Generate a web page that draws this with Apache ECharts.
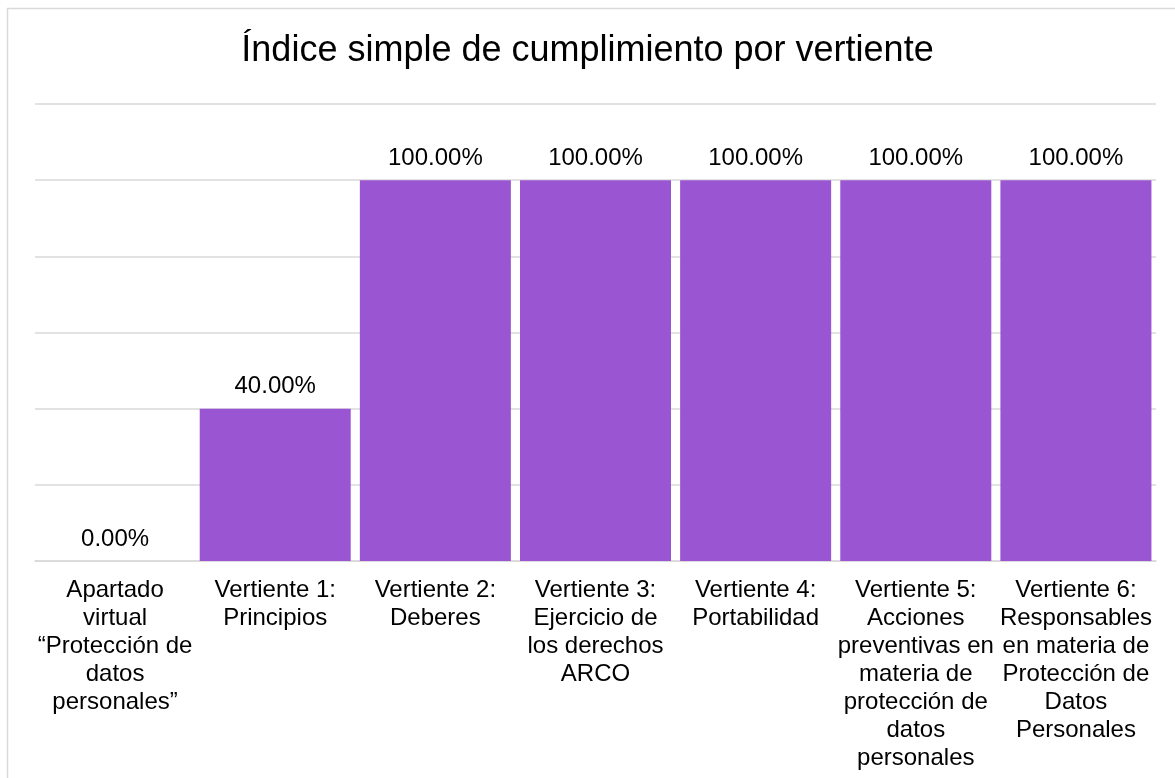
<!DOCTYPE html>
<html>
<head>
<meta charset="utf-8">
<script src="https://cdn.jsdelivr.net/npm/echarts@6/dist/echarts.min.js"></script>
<style>
  html, body { margin: 0; padding: 0; background: #fff; }
  #chart { width: 1175px; height: 778px; }
</style>
</head>
<body>
<div id="chart"></div>
<script>
// categorías (ejes) y valores en %
const categories = [
  "Apartado\nvirtual\n“Protección de\ndatos\npersonales”",
  "Vertiente 1:\nPrincipios",
  "Vertiente 2:\nDeberes",
  "Vertiente 3:\nEjercicio de\nlos derechos\nARCO",
  "Vertiente 4:\nPortabilidad",
  "Vertiente 5:\nAcciones\npreventivas en\nmateria de\nprotección de\ndatos\npersonales",
  "Vertiente 6:\nResponsables\nen materia de\nProtección de\nDatos\nPersonales"
];
const values = [0, 40, 100, 100, 100, 100, 100];

const chart = echarts.init(document.getElementById("chart"));
const font = "Liberation Sans, Arial, sans-serif";

chart.setOption({
  animation: false,
  textStyle: { fontFamily: font },
  title: {
    text: "Índice simple de cumplimiento por vertiente",
    left: "center",
    top: 28,
    textStyle: { fontFamily: font, fontSize: 36, fontWeight: "normal", color: "#000" }
  },
  // marco del gráfico
  graphic: [{
    type: "rect",
    shape: { x: 7.5, y: 8.5, width: 1200, height: 800 },
    style: { fill: "none", stroke: "#d9d9d9", lineWidth: 1.5 },
    silent: true
  }],
  grid: { left: 35, right: 19, top: 104, bottom: 217 },
  xAxis: {
    type: "category",
    data: categories,
    axisLine: { lineStyle: { color: "#d9d9d9", width: 1.5 } },
    axisTick: { show: false },
    axisLabel: {
      interval: 0,
      margin: 15,
      color: "#000",
      fontSize: 24,
      lineHeight: 28,
      fontFamily: font,
      verticalAlign: "top"
    }
  },
  yAxis: {
    type: "value",
    min: 0,
    max: 120,
    interval: 20,
    axisLabel: { show: false },
    axisLine: { show: false },
    axisTick: { show: false },
    splitLine: { lineStyle: { color: "#d9d9d9", width: 1.5 } }
  },
  series: [{
    type: "bar",
    data: values,
    barCategoryGap: "5.7%",
    itemStyle: { color: "#9a55d2" },
    label: {
      show: true,
      position: "top",
      distance: 10,
      color: "#000",
      fontSize: 24,
      fontFamily: font,
      formatter: p => p.value.toFixed(2) + "%"
    }
  }]
});
</script>
</body>
</html>
